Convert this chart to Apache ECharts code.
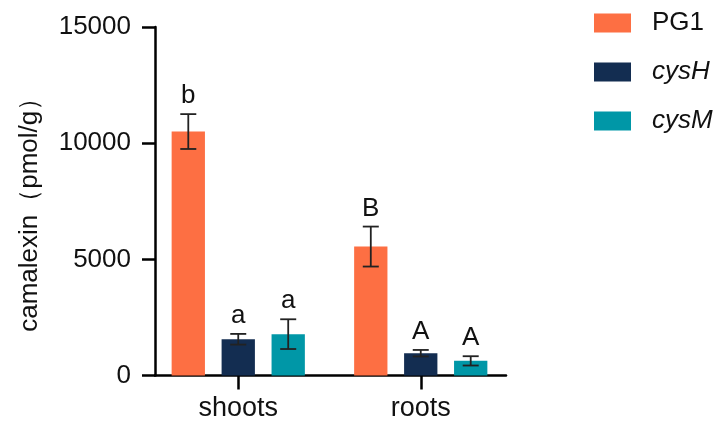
<!DOCTYPE html>
<html>
<head>
<meta charset="utf-8">
<script src="https://cdn.jsdelivr.net/npm/echarts@6/dist/echarts.min.js"></script>
<style>html,body{margin:0;padding:0;background:#fff}#c{width:727px;height:423px}</style>
</head>
<body>
<div id="c"></div>
<script>
var categories = ['shoots', 'roots'];
var seriesNames = ['PG1', 'cysH', 'cysM'];
var meanPG1 = [10500, 5550];
var meanCysH = [1560, 960];
var meanCysM = [1780, 630];
var errPG1 = [750, 860];
var errCysH = [230, 140];
var errCysM = [640, 200];
var lettersPG1 = ['b', 'B'];
var lettersCysH = ['a', 'A'];
var lettersCysM = ['a', 'A'];
var yTicks = [0, 5000, 10000, 15000];

var colors = ['#fd6f43', '#132d51', '#0097a7'];
var FONT = 'Liberation Sans, Arial, sans-serif';
var means = [meanPG1, meanCysH, meanCysM];
var errs = [errPG1, errCysH, errCysM];
var letters = [lettersPG1, lettersCysH, lettersCysM];

var chart = echarts.init(document.getElementById('c'), null, {renderer: 'canvas'});

var series = [];
seriesNames.forEach(function (n, i) {
  series.push({
    name: n, type: 'bar', xAxisIndex: 0, yAxisIndex: 0,
    data: means[i], barGap: '50%', barCategoryGap: '27%',
    itemStyle: {color: colors[i]}
  });
});
seriesNames.forEach(function (n, i) {
  var data = categories.map(function (c, k) { return [k, means[i][k], errs[i][k], letters[i][k]]; });
  series.push({
    type: 'custom', xAxisIndex: 0, yAxisIndex: 0, silent: true,
    dimensions: ['x', 'y', 'e', 'l'],
    encode: {x: 0, y: 1},
    data: data,
    z: 5,
    renderItem: function (params, api) {
      var k = api.value(0), v = api.value(1), e = api.value(2);
      var band = api.size([1, 0])[0];
      var bw = band * (1 - 0.27) / 4;
      var off = (i - 1) * 1.5 * bw;
      var top = api.coord([k, v + e]);
      var bot = api.coord([k, v - e]);
      var x = top[0] + off;
      var cw = 8;
      var ls = {stroke: '#222', lineWidth: 1.8};
      return {
        type: 'group',
        children: [
          {type: 'line', shape: {x1: x, y1: top[1], x2: x, y2: bot[1]}, style: ls},
          {type: 'line', shape: {x1: x - cw, y1: top[1], x2: x + cw, y2: top[1]}, style: ls},
          {type: 'line', shape: {x1: x - cw, y1: bot[1], x2: x + cw, y2: bot[1]}, style: ls},
          {type: 'text', style: {text: data[params.dataIndex][3], x: x, y: top[1] - 5,
            textAlign: 'center', textVerticalAlign: 'bottom', fill: '#111', font: '26px ' + FONT}}
        ]
      };
    }
  });
});

var option = {
  animation: false,
  backgroundColor: '#fff',
  textStyle: {fontFamily: FONT},
  grid: [
    {left: 147, right: 215, top: 27, bottom: 47.5},
    {left: 155, right: 221, top: 27, bottom: 47.5}
  ],
  legend: {
    orient: 'vertical', left: 594, top: 10, padding: 0,
    icon: 'rect',
    itemWidth: 37, itemHeight: 19, itemGap: 23,
    data: seriesNames,
    formatter: function (n) { return n === 'PG1' ? n : '{i|' + n + '}'; },
    textStyle: {fontSize: 26, color: '#111', fontFamily: FONT, padding: [0, 0, 0, 16],
      rich: {i: {fontSize: 26, fontStyle: 'italic', color: '#111', fontFamily: FONT}}}
  },
  xAxis: [
    {type: 'category', gridIndex: 0, data: categories,
      axisLine: {show: false},
      axisTick: {show: true, alignWithLabel: true, length: 14, lineStyle: {color: '#000', width: 2.5}},
      axisLabel: {fontSize: 27, color: '#111', margin: 20, fontFamily: FONT}},
    {type: 'value', gridIndex: 1, min: 0, max: 1, show: true,
      axisLine: {show: true, onZero: false, lineStyle: {color: '#000', width: 2.5}},
      axisTick: {show: false}, axisLabel: {show: false}, splitLine: {show: false}}
  ],
  yAxis: [
    {type: 'value', gridIndex: 0, min: yTicks[0], max: yTicks[yTicks.length - 1], interval: 5000,
      offset: -8,
      name: 'camalexin（pmol/g）', nameLocation: 'middle', nameGap: 112, nameRotate: 90,
      nameTextStyle: {fontSize: 26, color: '#111', fontFamily: FONT, padding: [0, 14, 0, 0]},
      axisLine: {show: true, lineStyle: {color: '#000', width: 2.5}},
      axisTick: {show: true, length: 13, lineStyle: {color: '#000', width: 2.5}},
      axisLabel: {fontSize: 26, color: '#111', margin: 24, fontFamily: FONT,
        formatter: function (v) { return String(v); }},
      splitLine: {show: false}},
    {type: 'value', gridIndex: 1, min: 0, max: 1, show: false}
  ],
  series: series
};
chart.setOption(option);
</script>
</body>
</html>
